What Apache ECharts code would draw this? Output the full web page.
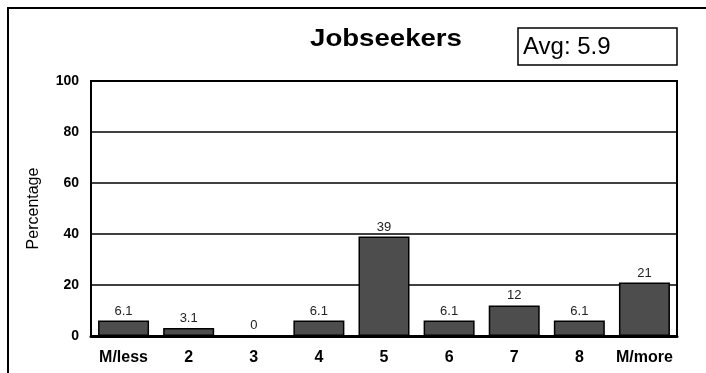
<!DOCTYPE html>
<html lang="en">
<head>
    <meta charset="UTF-8">
    <title>Jobseekers</title>
    <script type="text/javascript" src="https://cdn.jsdelivr.net/npm/echarts@6/dist/echarts.min.js"></script>
    <style>
        html, body { margin: 0; padding: 0; background: #fff; }
        #chart { width: 706px; height: 373px; }
    </style>
</head>
<body>
<div id="chart"></div>
<script type="text/javascript">
    var categories = ['M/less', '2', '3', '4', '5', '6', '7', '8', 'M/more'];
    var percentages = [6.1, 3.1, 0, 6.1, 39, 6.1, 12, 6.1, 21];
    var yTicks = [0, 20, 40, 60, 80, 100];
    var titleText = 'Jobseekers';
    var avgText = 'Avg: 5.9';

    var mychart = echarts.init(document.getElementById('chart'));
    var option = {
        animation: false,
        textStyle: { fontFamily: 'Liberation Sans, Arial, sans-serif' },
        graphic: [
            {
                type: 'rect',
                shape: { x: 8, y: 8, width: 720, height: 400 },
                style: { fill: 'none', stroke: '#000', lineWidth: 2 },
                z: -1
            },
            {
                // title, a little stretched sideways like the original
                type: 'text',
                x: 386,
                y: 40,
                scaleX: 1.2,
                style: {
                    text: titleText, fontSize: 23, fontWeight: 'bold', fill: '#000',
                    fontFamily: 'Liberation Sans, Arial, sans-serif',
                    textAlign: 'center', textVerticalAlign: 'middle'
                }
            },
            {
                type: 'rect',
                shape: { x: 518, y: 28, width: 159, height: 37 },
                style: { fill: '#fff', stroke: '#000', lineWidth: 1.5 }
            },
            {
                type: 'text',
                x: 523,
                y: 47,
                style: {
                    text: avgText, fontSize: 24, fill: '#000',
                    fontFamily: 'Liberation Sans, Arial, sans-serif',
                    textVerticalAlign: 'middle'
                }
            }
        ],
        grid: {
            left: 91, right: 29, top: 81, bottom: 37,
            show: true, borderColor: '#000', borderWidth: 2
        },
        xAxis: {
            type: 'category',
            data: categories,
            axisTick: { show: false },
            axisLine: { lineStyle: { color: '#000', width: 3 } },
            axisLabel: { color: '#000', fontWeight: 'bold', fontSize: 16, margin: 14, interval: 0, hideOverlap: false }
        },
        yAxis: {
            type: 'value',
            min: yTicks[0],
            max: yTicks[yTicks.length - 1],
            interval: yTicks[1] - yTicks[0],
            name: 'Percentage',
            nameLocation: 'middle',
            nameGap: 49,
            nameTextStyle: { color: '#000', fontSize: 16 },
            axisLine: { show: true, lineStyle: { color: '#000', width: 2 } },
            axisTick: { show: false },
            splitLine: { lineStyle: { color: '#000', width: 1.5 } },
            axisLabel: { color: '#000', fontWeight: 'bold', fontSize: 14, margin: 12 }
        },
        series: [{
            type: 'bar',
            data: percentages,
            barWidth: 51,
            itemStyle: { color: '#4d4d4d', borderColor: '#000', borderWidth: 1.5 },
            label: { show: true, position: 'top', color: '#222', fontSize: 13, distance: 3 }
        }]
    };
    mychart.setOption(option);
</script>
</body>
</html>
